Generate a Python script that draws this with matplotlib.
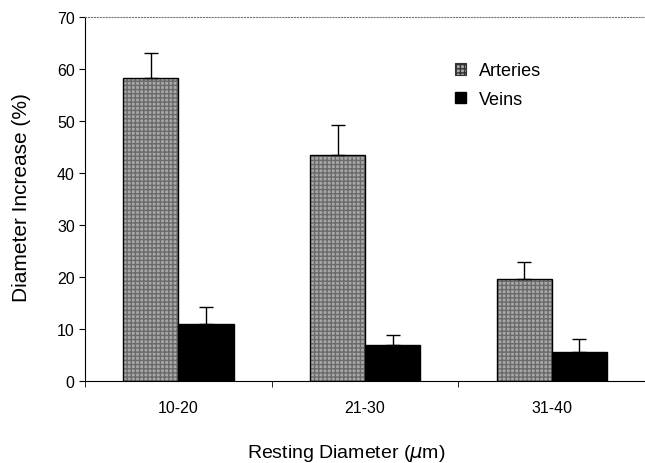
import matplotlib.pyplot as plt
import numpy as np
from matplotlib.patches import Patch

plt.rcParams['font.family'] = ['Liberation Sans', 'DejaVu Sans']

groups = ['10-20', '21-30', '31-40']
arteries = [58.2, 43.5, 19.6]
arteries_err = [4.8, 5.7, 3.2]
veins = [11.0, 6.9, 5.6]
veins_err = [3.2, 1.9, 2.4]

x = np.arange(len(groups))
w = 0.295

fig = plt.figure(figsize=(6.45, 4.64), dpi=100)
ax = fig.add_axes([0.132, 0.177, 0.868, 0.784])

# stippled arteries: hatch layer then black outline
ax.bar(x - w/2, arteries, w, color='#a8a8a8', hatch='++++', edgecolor='#6a6a6a', linewidth=0)
ax.bar(x - w/2, arteries, w, fill=False, edgecolor='black', linewidth=1)
ax.errorbar(x - w/2, arteries, yerr=[np.zeros(3), arteries_err], fmt='none',
            ecolor='black', elinewidth=1, capsize=5, capthick=1)

ax.bar(x + w/2, veins, w, color='black', edgecolor='black', linewidth=1)
ax.errorbar(x + w/2, veins, yerr=[np.zeros(3), veins_err], fmt='none',
            ecolor='black', elinewidth=1, capsize=5, capthick=1)

handles = [Patch(facecolor='#a8a8a8', hatch='++++', edgecolor='#333333', linewidth=0.8, label='Arteries'),
           Patch(facecolor='black', edgecolor='black', label='Veins')]
ax.legend(handles=handles, loc='upper left', bbox_to_anchor=(0.692, 0.883),
          bbox_transform=fig.transFigure, frameon=False, borderpad=0,
          fontsize=13, handlelength=0.6, handleheight=0.6, handletextpad=0.7, labelspacing=0.65)

ax.set_xlim(-0.5, 2.5)
ax.set_ylim(0, 70)
ax.set_yticks(range(0, 71, 10))
ax.set_xticks(x)
ax.set_xticklabels(groups)
ax.set_xticks([-0.5, 0.5, 1.5, 2.5], minor=True)
ax.tick_params(axis='x', which='major', length=0, pad=14, labelsize=11.5)
ax.tick_params(axis='x', which='minor', length=4, direction='out')
ax.tick_params(axis='y', length=4, direction='out', labelsize=11.5)

ax.spines['right'].set_visible(False)
ax.spines['top'].set_linestyle(':')
ax.spines['top'].set_color('#777777')
ax.spines['top'].set_linewidth(0.8)

fig.text(0.034, 0.575, 'Diameter Increase (%)', rotation=90, fontsize=15, ha='center', va='center')
fig.text(0.537, 0.012, r'Resting Diameter ($\mu$m)', fontsize=14, ha='center', va='baseline')

fig.savefig('out.png', dpi=100)
